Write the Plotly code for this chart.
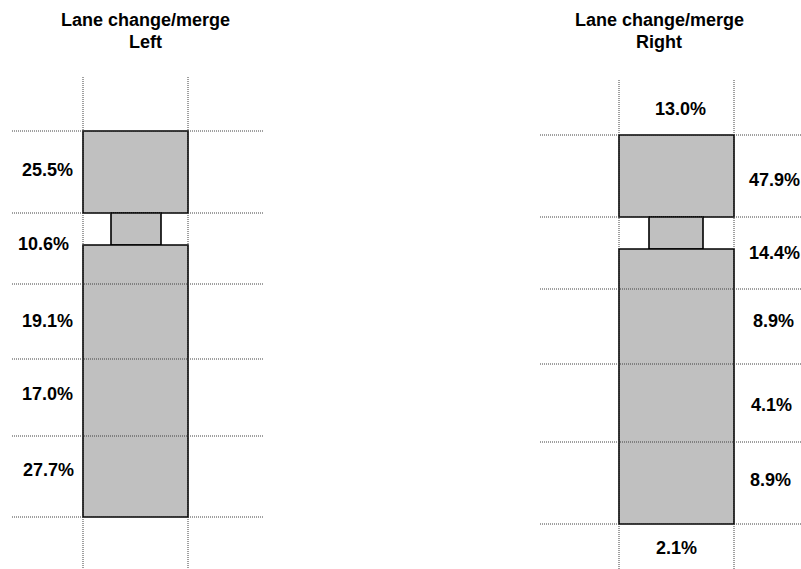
import plotly.graph_objects as go

# ---- data ----
panel_titles = ["Lane change/merge", "Lane change/merge"]
panel_subtitles = ["Left", "Right"]
left_pct = [25.5, 10.6, 19.1, 17.0, 27.7]
right_pct = [13.0, 47.9, 14.4, 8.9, 4.1, 8.9, 2.1]

# ---- diagram geometry (axis units == pixels of the 801x569 canvas) ----
W, H = 801, 569
panels = [
    dict(box_x=(83, 188), neck_x=(111, 161), grid_y=[131, 213, 284, 359, 436, 517],
         neck_bottom=245, vline_y=(77, 569), hline_x=(12, 263), title_x=145,
         label_x=[47, 43, 47, 47, 48], label_y=[170, 244, 321, 394, 470],
         label_anchor=["center"] * 5),
    dict(box_x=(619, 734), neck_x=(649, 703), grid_y=[135, 217, 289, 364, 442, 524],
         neck_bottom=249, vline_y=(80, 569), hline_x=(540, 801), title_x=659,
         label_x=[680, 747, 747, 751, 749, 748, 676],
         label_y=[109, 180, 253, 321, 405, 480, 548],
         label_anchor=["center", "left", "left", "left", "left", "left", "center"]),
]
values = [left_pct, right_pct]

BOX_FILL = "#c0c0c0"
DOT = dict(color="#404040", width=1, dash="1px,1px")
EDGE = dict(color="#000000", width=1.6)

fig = go.Figure()
fig.add_trace(go.Scatter(x=[0, W], y=[0, H], mode="markers",
                         marker=dict(opacity=0), hoverinfo="skip", showlegend=False))

shapes = []
annotations = []
for i, p in enumerate(panels):
    x0, x1 = p["box_x"]
    nx0, nx1 = p["neck_x"]
    g = p["grid_y"]
    # boxes
    shapes.append(dict(type="rect", xref="x", yref="y", x0=x0, x1=x1, y0=g[0], y1=g[1],
                       fillcolor=BOX_FILL, line=EDGE, layer="above"))
    shapes.append(dict(type="rect", xref="x", yref="y", x0=nx0, x1=nx1, y0=g[1], y1=p["neck_bottom"],
                       fillcolor=BOX_FILL, line=EDGE, layer="above"))
    shapes.append(dict(type="rect", xref="x", yref="y", x0=x0, x1=x1, y0=p["neck_bottom"], y1=g[-1],
                       fillcolor=BOX_FILL, line=EDGE, layer="above"))
    # dotted grid
    hx0, hx1 = p["hline_x"]
    for y in g:
        shapes.append(dict(type="line", xref="x", yref="y", x0=hx0, x1=hx1, y0=y, y1=y,
                           line=DOT, layer="above"))
    vy0, vy1 = p["vline_y"]
    for x in (x0, x1):
        shapes.append(dict(type="line", xref="x", yref="y", x0=x, x1=x, y0=vy0, y1=vy1,
                           line=DOT, layer="above"))
    # titles
    annotations.append(dict(x=p["title_x"], y=20, xref="x", yref="y", text="<b>%s</b>" % panel_titles[i],
                            showarrow=False, xanchor="center", yanchor="middle",
                            font=dict(family="Liberation Sans, Arial, sans-serif", size=18, color="black")))
    annotations.append(dict(x=p["title_x"], y=42, xref="x", yref="y", text="<b>%s</b>" % panel_subtitles[i],
                            showarrow=False, xanchor="center", yanchor="middle",
                            font=dict(family="Liberation Sans, Arial, sans-serif", size=18, color="black")))
    # percentage labels
    for v, lx, ly, anc in zip(values[i], p["label_x"], p["label_y"], p["label_anchor"]):
        annotations.append(dict(x=lx, y=ly, xref="x", yref="y", text="<b>%.1f%%</b>" % v,
                                showarrow=False, xanchor=anc, yanchor="middle",
                                font=dict(family="Liberation Sans Narrow, Arial Narrow, Liberation Sans, sans-serif",
                                          size=18, color="black")))

fig.update_layout(
    width=W, height=H, margin=dict(l=0, r=0, t=0, b=0),
    paper_bgcolor="white", plot_bgcolor="white",
    xaxis=dict(range=[0, W], visible=False, fixedrange=True),
    yaxis=dict(range=[H, 0], visible=False, fixedrange=True),
    shapes=shapes, annotations=annotations, showlegend=False,
)

fig.write_html("out.html", config={"displayModeBar": False},
               post_script="document.body.style.margin='0px';document.body.style.overflow='hidden';")
